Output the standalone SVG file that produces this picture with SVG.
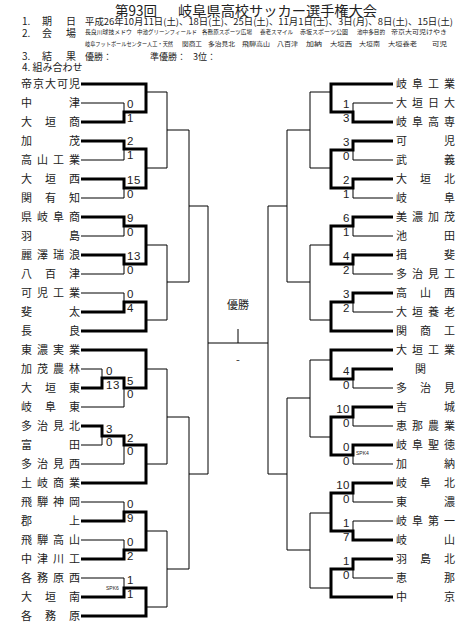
<svg xmlns="http://www.w3.org/2000/svg" width="475" height="625" viewBox="0 0 475 625">
<style>
.n{font-family:"Noto Sans CJK JP","Noto Sans CJK SC",sans-serif;font-size:11px;fill:#222}
.h{font-family:"Noto Sans CJK JP","Noto Sans CJK SC",sans-serif;fill:#222}
.s{font-family:"Liberation Sans",sans-serif;font-size:11.5px;fill:#222;letter-spacing:0.5px}
.sr{font-family:"Liberation Sans",sans-serif;font-size:11.5px;fill:#222;text-anchor:end;letter-spacing:0.5px}
.pk{font-family:"Liberation Sans",sans-serif;font-size:5px;fill:#222}
.k{fill:none;stroke:#000;stroke-width:3;stroke-linejoin:miter}
.t{fill:none;stroke:#000;stroke-width:1}
</style>
<rect width="475" height="625" fill="#fff"/>
<g id="header">
<text class="h" x="115" y="15.5" font-size="14" textLength="42" lengthAdjust="spacingAndGlyphs">第93回</text>
<text class="h" x="178" y="15.5" font-size="14" textLength="199" lengthAdjust="spacingAndGlyphs">岐阜県高校サッカー選手権大会</text>
<text class="h" x="22" y="25" font-size="10">1.</text>
<text class="h" x="42" y="25" font-size="10">期</text>
<text class="h" x="66" y="25" font-size="10">日</text>
<text class="h" x="85" y="24.5" font-size="9" textLength="368" lengthAdjust="spacingAndGlyphs">平成26年10月11日(土)、18日(土)、25日(土)、11月1日(土)、3日(月)、8日(土)、15日(土)</text>
<text class="h" x="22" y="36.5" font-size="10">2.</text>
<text class="h" x="42" y="36.5" font-size="10">会</text>
<text class="h" x="66" y="36.5" font-size="10">場</text>
<g font-size="5.8">
<text class="h" x="85" y="34" textLength="47" lengthAdjust="spacingAndGlyphs">長良川球技メドウ</text>
<text class="h" x="137" y="34" textLength="60" lengthAdjust="spacingAndGlyphs">中池グリーンフィールド</text>
<text class="h" x="202" y="34" textLength="50" lengthAdjust="spacingAndGlyphs">各務原スポーツ広場</text>
<text class="h" x="260" y="34" textLength="33" lengthAdjust="spacingAndGlyphs">養老スマイル</text>
<text class="h" x="300" y="34" textLength="48" lengthAdjust="spacingAndGlyphs">赤坂スポーツ公園</text>
<text class="h" x="357" y="34" textLength="28" lengthAdjust="spacingAndGlyphs">池中多目的</text>
<text class="h" x="391" y="34" textLength="56" lengthAdjust="spacingAndGlyphs">帝京大可児けやき</text>
<text class="h" x="85" y="46" textLength="88" lengthAdjust="spacingAndGlyphs">岐阜フットボールセンター人工・天然</text>
<text class="h" x="182" y="46" textLength="20" lengthAdjust="spacingAndGlyphs">関商工</text>
<text class="h" x="208" y="46" textLength="27" lengthAdjust="spacingAndGlyphs">多治見北</text>
<text class="h" x="242" y="46" textLength="28" lengthAdjust="spacingAndGlyphs">飛騨高山</text>
<text class="h" x="277" y="46" textLength="21" lengthAdjust="spacingAndGlyphs">八百津</text>
<text class="h" x="306" y="46" textLength="16" lengthAdjust="spacingAndGlyphs">加納</text>
<text class="h" x="330" y="46" textLength="22" lengthAdjust="spacingAndGlyphs">大垣西</text>
<text class="h" x="359" y="46" textLength="21" lengthAdjust="spacingAndGlyphs">大垣南</text>
<text class="h" x="388" y="46" textLength="29" lengthAdjust="spacingAndGlyphs">大垣養老</text>
<text class="h" x="432" y="46" textLength="15" lengthAdjust="spacingAndGlyphs">可児</text>
</g>
<text class="h" x="22" y="59.5" font-size="10">3.</text>
<text class="h" x="42" y="59.5" font-size="10">結</text>
<text class="h" x="66" y="59.5" font-size="10">果</text>
<text class="h" x="85" y="59.5" font-size="9">優勝：</text>
<text class="h" x="150" y="59.5" font-size="9">準優勝：</text>
<text class="h" x="193" y="59.5" font-size="9">3位：</text>
<text class="h" x="22" y="71" font-size="10">4. 組み合わせ</text>
</g>
<g id="connectors">
<path class="t" d="M81 103H124V112M81 160H124V149M81 198H124V188M81 236H124V226M81 274H124V264M81 293H124V302M81 369H102V378M81 407H124V388M81 445H102V436M81 464H124V445M81 502H124V512M81 540H124V550M81 578H124V588"/>
<path class="t" d="M146 92H167M146 168H167M146 245H167M146 320H167M146 369H167M146 464H167M146 531H167M146 607H167M167 92V168M167 130H189M167 245V320M167 282H189M167 369V464M167 417H189M167 531V607M167 569H189M189 130V282M189 206H208M189 417V569M189 474H208M208 206V474M208 343H268M238 329V343M268 206V474M268 206H287M268 474H287"/>
<path class="t" d="M287 130V282M287 130H310M287 282H310M287 398V550M287 398H310M287 550H310M310 92V168M310 92H331M310 168H331M310 245V320M310 245H331M310 320H331M310 360V437M310 360H331M310 437H331M310 513V588M310 513H331M310 588H331"/>
<path class="t" d="M393 103H353V112M393 160H353V150M393 198H353V188M393 236H353V226M393 274H353V264M393 312H353V302M393 388H353V379M393 426H353V417M393 464H353V455M393 502H353V493M393 521H353V531M393 578H353V569"/>
<path class="k" d="M81 84H146V112H124V122H81"/>
<path class="k" d="M81 141H124V149H146V188H124V179H81"/>
<path class="k" d="M81 217H124V226H146V264H124V255H81"/>
<path class="k" d="M81 312H124V302H146V331H81"/>
<path class="k" d="M81 350H146V388H124V378H102V388H81"/>
<path class="k" d="M81 426H102V436H124V445H146V483H81"/>
<path class="k" d="M81 521H124V512H146V550H124V559H81"/>
<path class="k" d="M81 597H124V588H146V616H81"/>
<path class="k" d="M393 84H331V112H353V122H393"/>
<path class="k" d="M393 141H353V150H331V188H353V179H393"/>
<path class="k" d="M393 217H353V226H331V264H353V255H393"/>
<path class="k" d="M393 293H353V302H331V331H393"/>
<path class="k" d="M393 350H331V379H353V369H393"/>
<path class="k" d="M393 407H353V417H331V455H353V445H393"/>
<path class="k" d="M393 483H353V493H331V531H353V540H393"/>
<path class="k" d="M393 559H353V569H331V597H393"/>
</g>
<g id="scores">
<text class="s" x="127" y="108">0</text><text class="s" x="127" y="122">1</text>
<text class="s" x="127" y="145">2</text><text class="s" x="127" y="159">1</text>
<text class="s" x="127" y="184">15</text><text class="s" x="127" y="198">0</text>
<text class="s" x="127" y="222">9</text><text class="s" x="127" y="236">0</text>
<text class="s" x="127" y="260">13</text><text class="s" x="127" y="274">0</text>
<text class="s" x="127" y="298">0</text><text class="s" x="127" y="312">4</text>
<text class="s" x="106" y="375">0</text><text class="s" x="106" y="389">13</text>
<text class="s" x="127" y="385">5</text><text class="s" x="127" y="398">0</text>
<text class="s" x="106" y="433">3</text><text class="s" x="106" y="446">0</text>
<text class="s" x="127" y="442">2</text><text class="s" x="127" y="455">0</text>
<text class="s" x="127" y="508">0</text><text class="s" x="127" y="522">9</text>
<text class="s" x="127" y="546">0</text><text class="s" x="127" y="560">2</text>
<text class="s" x="127" y="584">1</text><text class="s" x="127" y="598">1</text>
<text class="pk" x="106" y="590">SPK6</text>
<text class="sr" x="350" y="108">1</text><text class="sr" x="350" y="122">3</text>
<text class="sr" x="350" y="146">3</text><text class="sr" x="350" y="160">0</text>
<text class="sr" x="350" y="184">2</text><text class="sr" x="350" y="198">1</text>
<text class="sr" x="350" y="222">6</text><text class="sr" x="350" y="236">1</text>
<text class="sr" x="350" y="260">4</text><text class="sr" x="350" y="274">2</text>
<text class="sr" x="350" y="298">3</text><text class="sr" x="350" y="312">2</text>
<text class="sr" x="350" y="375">4</text><text class="sr" x="350" y="389">0</text>
<text class="sr" x="350" y="413">10</text><text class="sr" x="350" y="427">0</text>
<text class="sr" x="350" y="451">0</text><text class="sr" x="350" y="465">0</text>
<text class="pk" x="356" y="455">SPK4</text>
<text class="sr" x="350" y="489">10</text><text class="sr" x="350" y="503">0</text>
<text class="sr" x="350" y="527">1</text><text class="sr" x="350" y="541">7</text>
<text class="sr" x="350" y="565">1</text><text class="sr" x="350" y="579">0</text>
</g>
<g id="final">
<text class="n" x="238" y="309" text-anchor="middle">優勝</text>
<text class="n" x="238" y="364" text-anchor="middle">-</text>
</g>
<g id="left-teams">
<text id="t-l01" class="n" x="21 33 45 57 69" y="88">帝京大可児</text>
<text id="t-l02" class="n" x="21 69" y="107">中津</text>
<text id="t-l03" class="n" x="21 45 69" y="126">大垣商</text>
<text id="t-l04" class="n" x="21 69" y="145">加茂</text>
<text id="t-l05" class="n" x="21 37 53 69" y="164">高山工業</text>
<text id="t-l06" class="n" x="21 45 69" y="183">大垣西</text>
<text id="t-l07" class="n" x="21 45 69" y="202">関有知</text>
<text id="t-l08" class="n" x="21 37 53 69" y="221">県岐阜商</text>
<text id="t-l09" class="n" x="21 69" y="240">羽島</text>
<text id="t-l10" class="n" x="21 37 53 69" y="259">麗澤瑞浪</text>
<text id="t-l11" class="n" x="21 45 69" y="278">八百津</text>
<text id="t-l12" class="n" x="21 37 53 69" y="297">可児工業</text>
<text id="t-l13" class="n" x="21 69" y="316">斐太</text>
<text id="t-l14" class="n" x="21 69" y="335">長良</text>
<text id="t-l15" class="n" x="21 37 53 69" y="354">東濃実業</text>
<text id="t-l16" class="n" x="21 37 53 69" y="373">加茂農林</text>
<text id="t-l17" class="n" x="21 45 69" y="392">大垣東</text>
<text id="t-l18" class="n" x="21 45 69" y="411">岐阜東</text>
<text id="t-l19" class="n" x="21 37 53 69" y="430">多治見北</text>
<text id="t-l20" class="n" x="21 69" y="449">富田</text>
<text id="t-l21" class="n" x="21 37 53 69" y="468">多治見西</text>
<text id="t-l22" class="n" x="21 37 53 69" y="487">土岐商業</text>
<text id="t-l23" class="n" x="21 37 53 69" y="506">飛騨神岡</text>
<text id="t-l24" class="n" x="21 69" y="525">郡上</text>
<text id="t-l25" class="n" x="21 37 53 69" y="544">飛騨高山</text>
<text id="t-l26" class="n" x="21 37 53 69" y="563">中津川工</text>
<text id="t-l27" class="n" x="21 37 53 69" y="582">各務原西</text>
<text id="t-l28" class="n" x="21 45 69" y="601">大垣南</text>
<text id="t-l29" class="n" x="21 45 69" y="620">各務原</text>
</g>
<g id="right-teams">
<text id="t-r01" class="n" x="396 412 428 444" y="88">岐阜工業</text>
<text id="t-r02" class="n" x="396 412 428 444" y="107">大垣日大</text>
<text id="t-r03" class="n" x="396 412 428 444" y="126">岐阜高専</text>
<text id="t-r04" class="n" x="396 444" y="145">可児</text>
<text id="t-r05" class="n" x="396 444" y="164">武義</text>
<text id="t-r06" class="n" x="396 420 444" y="183">大垣北</text>
<text id="t-r07" class="n" x="396 444" y="202">岐阜</text>
<text id="t-r08" class="n" x="396 412 428 444" y="221">美濃加茂</text>
<text id="t-r09" class="n" x="396 444" y="240">池田</text>
<text id="t-r10" class="n" x="396 444" y="259">揖斐</text>
<text id="t-r11" class="n" x="396 412 428 444" y="278">多治見工</text>
<text id="t-r12" class="n" x="396 420 444" y="297">高山西</text>
<text id="t-r13" class="n" x="396 412 428 444" y="316">大垣養老</text>
<text id="t-r14" class="n" x="396 420 444" y="335">関商工</text>
<text id="t-r15" class="n" x="396 412 428 444" y="354">大垣工業</text>
<text id="t-r16" class="n" x="415" y="373">関</text>
<text id="t-r17" class="n" x="396 420 444" y="392">多治見</text>
<text id="t-r18" class="n" x="396 444" y="411">吉城</text>
<text id="t-r19" class="n" x="396 412 428 444" y="430">恵那農業</text>
<text id="t-r20" class="n" x="396 412 428 444" y="449">岐阜聖徳</text>
<text id="t-r21" class="n" x="396 444" y="468">加納</text>
<text id="t-r22" class="n" x="396 420 444" y="487">岐阜北</text>
<text id="t-r23" class="n" x="396 444" y="506">東濃</text>
<text id="t-r24" class="n" x="396 412 428 444" y="525">岐阜第一</text>
<text id="t-r25" class="n" x="396 444" y="544">岐山</text>
<text id="t-r26" class="n" x="396 420 444" y="563">羽島北</text>
<text id="t-r27" class="n" x="396 444" y="582">恵那</text>
<text id="t-r28" class="n" x="396 444" y="601">中京</text>
</g>
</svg>
